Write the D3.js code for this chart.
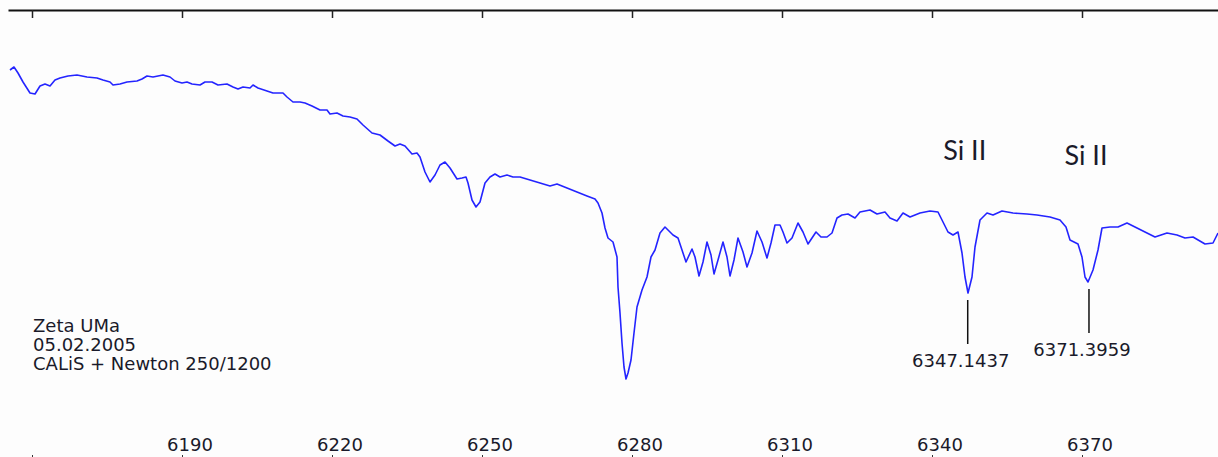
<!DOCTYPE html>
<html>
<head>
<meta charset="utf-8">
<script src="https://cdn.jsdelivr.net/npm/d3@7"></script>
<style>
  body { margin: 0; background: #fdfdfd; }
  svg { display: block; }
</style>
</head>
<body>
<script>
// wavelength in Angstrom, intensity in counts
var wavelength = [
  6155.6, 6156.4, 6157.2, 6158.2, 6159.6, 6160.6, 6161.6, 6162.6, 6163.6, 6164.6,
  6165.6, 6167.2, 6169.0, 6170.0, 6171.0, 6173.0, 6174.2, 6175.6, 6176.2, 6177.6,
  6179.0, 6181.0, 6182.0, 6183.0, 6184.2, 6186.2, 6187.6, 6188.6, 6190.0, 6191.0,
  6192.0, 6193.6, 6194.6, 6196.0, 6197.2, 6199.0, 6200.2, 6201.2, 6202.2, 6203.6,
  6204.2, 6205.2, 6207.0, 6208.2, 6210.2, 6211.0, 6212.2, 6213.6, 6214.6, 6216.0,
  6217.6, 6219.0, 6219.6, 6221.0, 6222.2, 6223.6, 6225.0, 6226.2, 6228.0, 6229.6,
  6231.2, 6232.6, 6233.6, 6234.6, 6236.0, 6237.0, 6237.6, 6238.6, 6239.6, 6240.6,
  6241.6, 6242.6, 6243.6, 6245.0, 6246.0, 6246.8, 6247.2, 6248.0, 6248.8, 6249.6,
  6250.6, 6251.6, 6252.6, 6253.6, 6255.0, 6256.2, 6257.6, 6259.6, 6261.6, 6263.6,
  6265.0, 6267.0, 6269.0, 6271.0, 6272.6, 6273.2, 6274.0, 6274.6, 6275.2, 6276.2,
  6277.0, 6277.2, 6277.6, 6278.0, 6278.4, 6278.8, 6279.2, 6279.8, 6280.4, 6281.0,
  6282.0, 6283.0, 6283.8, 6284.6, 6285.6, 6286.6, 6288.2, 6289.2, 6290.0, 6290.8,
  6292.0, 6292.6, 6293.4, 6294.2, 6295.0, 6295.8, 6296.4, 6297.2, 6298.2, 6299.0,
  6299.6, 6300.4, 6301.2, 6302.2, 6303.0, 6304.0, 6305.0, 6306.0, 6307.0, 6307.8,
  6308.6, 6309.6, 6310.2, 6311.0, 6312.0, 6313.2, 6314.2, 6315.2, 6316.0, 6316.8,
  6317.8, 6319.0, 6320.0, 6321.0, 6322.0, 6323.2, 6324.6, 6325.6, 6327.6, 6329.0,
  6330.6, 6331.6, 6333.0, 6334.2, 6335.6, 6337.6, 6339.6, 6341.2, 6342.2, 6343.2,
  6344.2, 6345.2, 6346.0, 6346.6, 6347.2, 6348.0, 6348.6, 6349.6, 6351.0, 6352.2,
  6354.0, 6356.2, 6359.0, 6361.0, 6363.6, 6365.6, 6366.8, 6367.6, 6369.2, 6370.0,
  6370.6, 6371.2, 6372.2, 6373.2, 6374.0, 6375.6, 6377.2, 6379.0, 6381.0, 6383.0,
  6384.6, 6387.0, 6389.0, 6390.6, 6392.2, 6394.6, 6396.2, 6397.2
];
var intensity = [
  4300, 4330, 4270, 4180, 4070, 4060, 4140, 4160, 4140, 4200,
  4220, 4240, 4250, 4240, 4230, 4220, 4200, 4180, 4150, 4160,
  4180, 4190, 4210, 4240, 4230, 4250, 4230, 4190, 4170, 4180,
  4160, 4150, 4180, 4180, 4150, 4160, 4130, 4110, 4130, 4120,
  4150, 4120, 4090, 4070, 4070, 4030, 3980, 3980, 3970, 3940,
  3900, 3900, 3860, 3870, 3840, 3830, 3810, 3750, 3670, 3650,
  3590, 3540, 3560, 3540, 3460, 3470, 3430, 3280, 3180, 3250,
  3350, 3380, 3320, 3210, 3220, 3230, 3170, 3000, 2930, 2980,
  3170, 3230, 3260, 3230, 3250, 3230, 3230, 3200, 3170, 3140,
  3160, 3120, 3080, 3040, 3010, 2970, 2870, 2720, 2620, 2580,
  2430, 2130, 1870, 1570, 1330, 1210, 1270, 1400, 1670, 1930,
  2100, 2230, 2430, 2500, 2670, 2730, 2650, 2620, 2500, 2380,
  2510, 2430, 2240, 2380, 2580, 2450, 2260, 2400, 2580, 2430,
  2240, 2400, 2620, 2480, 2330, 2470, 2690, 2580, 2420, 2570,
  2750, 2750, 2680, 2570, 2620, 2770, 2680, 2560, 2620, 2680,
  2630, 2630, 2670, 2820, 2850, 2860, 2820, 2880, 2900, 2860,
  2880, 2820, 2790, 2870, 2830, 2870, 2890, 2880, 2780, 2680,
  2650, 2680, 2470, 2230, 2070, 2230, 2530, 2800, 2870, 2850,
  2890, 2870, 2860, 2850, 2830, 2800, 2730, 2600, 2560, 2430,
  2230, 2180, 2300, 2500, 2720, 2730, 2730, 2770, 2720, 2670,
  2630, 2670, 2650, 2620, 2630, 2560, 2570, 2670
];

var tickValues = [6160, 6190, 6220, 6250, 6280, 6310, 6340, 6370];
var tickLabels = ["", "6190", "6220", "6250", "6280", "6310", "6340", "6370"];

var lineNames = ["Si II", "Si II"];
var lineCenters = [6347.1437, 6371.3959];
var lineLabels = ["6347.1437", "6371.3959"];

var infoText = ["Zeta UMa", "05.02.2005", "CALiS + Newton 250/1200"];

var width = 1218, height = 457;
var textFont = "DejaVu Sans, Verdana, sans-serif";

var spectrum = wavelength.map(function(w, i) {
    return { w: w, v: intensity[i] };
});

var x = d3.scaleLinear().domain([6155.2, 6397.2]).range([8, 1218]);
var y = d3.scaleLinear().domain([0, 5000]).range([500, 0]);

var svg = d3.select("body").append("svg")
    .attr("width", width)
    .attr("height", height);

svg.append("rect").attr("width", width).attr("height", height).attr("fill", "#fdfdfd");

// top axis: line with ticks pointing down
var topAxis = svg.append("g")
    .attr("transform", "translate(0,10)")
    .call(d3.axisBottom(x).tickValues(tickValues).tickSizeInner(8).tickSizeOuter(0).tickFormat(""));
topAxis.select(".domain").attr("stroke", "#111").attr("stroke-width", 2);
topAxis.selectAll(".tick line").attr("stroke", "#222").attr("stroke-width", 1.5);

// bottom axis, only its short ticks show at the lower edge
var bottomAxis = svg.append("g")
    .attr("transform", "translate(0,459)")
    .call(d3.axisTop(x).tickValues(tickValues).tickSizeInner(4).tickSizeOuter(0).tickFormat(""));
bottomAxis.select(".domain").attr("stroke", "#111");
bottomAxis.selectAll(".tick line").attr("stroke", "#333");

// tick labels sit a little right of the ticks
svg.append("g").selectAll("text")
    .data(tickValues)
    .enter().append("text")
    .attr("x", function(d) { return x(d) + 8; })
    .attr("y", 451)
    .attr("text-anchor", "middle")
    .attr("font-family", textFont)
    .attr("font-size", 18)
    .attr("fill", "#1a1a2a")
    .text(function(d, i) { return tickLabels[i]; });

var line = d3.line()
    .x(function(d) { return x(d.w); })
    .y(function(d) { return y(d.v); });

svg.append("path").datum(spectrum)
    .attr("fill", "none")
    .attr("stroke", "#2424ff")
    .attr("stroke-width", 1.6)
    .attr("stroke-linejoin", "round")
    .attr("d", line);

// line identifications
var nameY = [160, 165];
lineCenters.forEach(function(c, i) {
    var dip = d3.least(spectrum.filter(function(d) { return Math.abs(d.w - c) < 2; }),
        function(d) { return d.v; });
    var top = y(dip.v) + 7;
    svg.append("line")
        .attr("x1", x(c)).attr("x2", x(c))
        .attr("y1", top).attr("y2", top + 44)
        .attr("stroke", "#111").attr("stroke-width", 1.5);
    svg.append("text")
        .attr("x", x(c) - 7).attr("y", top + 67)
        .attr("text-anchor", "middle")
        .attr("font-family", textFont)
        .attr("font-size", 18)
        .attr("fill", "#1a1a2a")
        .text(lineLabels[i]);
    svg.append("text")
        .attr("x", x(c) - 3).attr("y", nameY[i])
        .attr("text-anchor", "middle")
        .attr("font-family", "Liberation Sans Narrow, Lato, sans-serif")
        .attr("font-size", 27)
        .attr("fill", "#1a1a2a")
        .text(lineNames[i]);
});

// object info
svg.append("g").selectAll("text")
    .data(infoText)
    .enter().append("text")
    .attr("x", 33)
    .attr("y", function(d, i) { return 332 + i * 19; })
    .attr("font-family", textFont)
    .attr("font-size", 18)
    .attr("fill", "#1a1a2a")
    .text(function(d) { return d; });
</script>
</body>
</html>
